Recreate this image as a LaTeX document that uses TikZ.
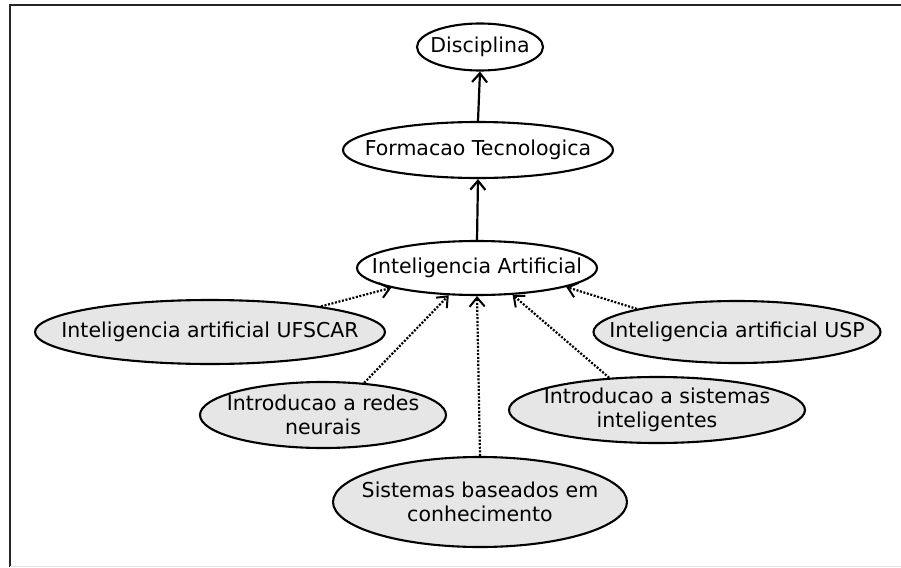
\documentclass[tikz,border=0pt]{standalone}
\usepackage{fontspec}
\setmainfont{DejaVu Sans}
\usetikzlibrary{shapes.geometric,arrows.meta}
\definecolor{casefill}{RGB}{230,230,230}
\tikzset{
  uc/.style={ellipse, draw=black, line width=2.1pt, inner xsep=-40pt, inner ysep=0pt,
    align=center, font=\fontsize{20.5}{24}\selectfont, text=black},
  ucwhite/.style={uc, fill=white},
  ucgray/.style={uc, fill=casefill},
  gen/.style={line width=2.2pt, -{Straight Barb[length=9pt,width=15pt,line width=2.2pt]}},
  dep/.style={line width=2.2pt, dash pattern=on 2pt off 1.6pt,
    -{Straight Barb[length=9pt,width=15pt,line width=2pt]}}
}
\begin{document}
\begin{tikzpicture}[x=1pt,y=-1pt]
  \useasboundingbox (0,0) rectangle (901,567);
  % frame
  \draw[line width=2.2pt, black!85] (10,567) -- (10,5) -- (901,5);
  \draw[line width=1pt, black!10] (10,566.5) -- (901,566.5);

  % use cases
  \node[ucwhite, minimum width=126pt, minimum height=47pt] (disc) at (480,47) {Disciplina};
  \node[ucwhite, minimum width=270pt, minimum height=56pt] (form) at (478,150) {Formacao Tecnologica};
  \node[ucwhite, minimum width=240pt, minimum height=54pt] (ia) at (477,268) {Inteligencia Artificial};
  \node[ucgray, minimum width=350pt, minimum height=64pt] (ufscar) at (210,332) {Inteligencia artificial UFSCAR};
  \node[ucgray, minimum width=287pt, minimum height=62pt] (usp) at (737,332) {Inteligencia artificial USP};
  \node[ucgray, minimum width=246pt, minimum height=66pt] (redes) at (323,415) {Introducao a redes\\neurais};
  \node[ucgray, minimum width=296pt, minimum height=66pt] (sint) at (657,410) {Introducao a sistemas\\inteligentes};
  \node[ucgray, minimum width=294pt, minimum height=90pt] (sbc) at (480,502) {Sistemas baseados em\\conhecimento};

  % generalisations
  \draw[gen] (form.north) -- (disc.south);
  \draw[gen] (ia.north) -- (form.south);

  % dependencies
  \draw[dep] (ufscar.13.5) -- (ia.193);
  \draw[dep] (redes.38.7) -- (ia.224);
  \draw[dep] (sbc.north) -- (ia.south);
  \draw[dep] (sint.146.3) -- (ia.323.6);
  \draw[dep] (usp.167.5) -- (ia.348.2);
\end{tikzpicture}
\end{document}
